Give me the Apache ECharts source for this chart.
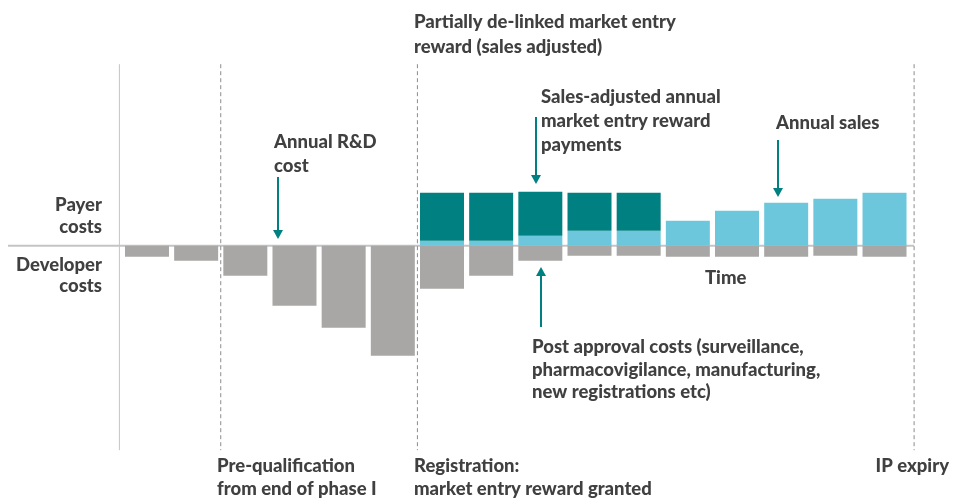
<!DOCTYPE html>
<html lang="en">
  <head>
    <meta charset="UTF-8" />
    <title>Market entry reward</title>
    <script src="https://cdnjs.cloudflare.com/ajax/libs/echarts/6.0.0/echarts.min.js"></script>
    <style>
      html, body { margin: 0; padding: 0; background: #fff; }
    </style>
  </head>
  <body>
    <div id="main" style="width: 962px; height: 500px"></div>
    <script>
      // data (arbitrary units)
      var years = ["1", "2", "3", "4", "5", "6", "7", "8", "9", "10", "11", "12", "13", "14", "15", "16"];
      var developerCosts = [-11, -15, -30, -60, -82, -110, -43, -30, -15, -10, -10, -11, -11, -11, -10, -11];
      var annualSales = ["-", "-", "-", "-", "-", "-", 5, 5, 10, 15, 15, 25, 35, 43, 47, 53];
      var rewardPayments = ["-", "-", "-", "-", "-", "-", 48, 48, 44, 38, 38, "-", "-", "-", "-", "-"];

      var TEAL = "#008081";
      var LIGHT = "#6cc7dc";
      var GREY = "#a8a7a6";
      var TXT = "#404040";
      var FONT = "900 18.5px Lato";

      var myChart = echarts.init(document.getElementById("main"));

      var option = {
        animation: false,
        grid: { left: 122.4, width: 786.7, top: 65.7, height: 384 },
        xAxis: {
          type: "category",
          data: years,
          show: false,
        },
        yAxis: {
          type: "value",
          min: -204,
          max: 180,
          show: false,
        },
        series: [
          {
            type: "bar",
            name: "Developer costs",
            stack: "total",
            barWidth: 44,
            data: developerCosts,
            itemStyle: { color: GREY },
          },
          {
            type: "bar",
            name: "Annual sales",
            stack: "total",
            barWidth: 44,
            data: annualSales,
            itemStyle: { color: LIGHT },
          },
          {
            type: "bar",
            name: "Reward payments",
            stack: "total",
            barWidth: 44,
            data: rewardPayments,
            itemStyle: { color: TEAL },
          },
        ],
      };
      myChart.setOption(option);

      // guide lines placed from the axes
      var zeroY = myChart.convertToPixel({ yAxisIndex: 0 }, 0);
      var topY = myChart.convertToPixel({ yAxisIndex: 0 }, 180) - 1.5;
      var botY = myChart.convertToPixel({ yAxisIndex: 0 }, -204) + 0.5;
      var band = 786.7 / years.length;
      function edge(i) {
        return myChart.convertToPixel({ xAxisIndex: 0 }, i) - band / 2;
      }

      function vline(x, dashed) {
        return {
          type: "line",
          shape: { x1: x, y1: topY, x2: x, y2: botY },
          style: { stroke: dashed ? "#8c8c8c" : "#c4c4c4", lineWidth: 1, lineDash: dashed ? [4, 3] : null },
          z: 1,
        };
      }
      function txt(x, y, s, lh, align) {
        return {
          type: "text",
          x: x,
          y: y,
          style: {
            text: s,
            font: FONT,
            fill: TXT,
            align: align || "left",
            verticalAlign: "top",
            lineHeight: lh,
          },
          z: 10,
        };
      }
      function arrow(x, y1, tip) {
        var dir = tip > y1 ? 1 : -1;
        return {
          type: "group",
          z: 10,
          children: [
            {
              type: "line",
              shape: { x1: x, y1: y1, x2: x, y2: tip - dir * 7 },
              style: { stroke: TEAL, lineWidth: 2 },
            },
            {
              type: "polygon",
              shape: { points: [[x - 5, tip - dir * 9], [x + 5, tip - dir * 9], [x, tip]] },
              style: { fill: TEAL },
            },
          ],
        };
      }

      myChart.setOption({
        graphic: [
          vline(edge(0) - 3, false),
          vline(edge(2), true),
          vline(edge(6), true),
          vline(edge(16) + 5, true),
          {
            type: "line",
            shape: { x1: 8, y1: zeroY, x2: edge(16) + 5, y2: zeroY },
            style: { stroke: "#c4c4c4", lineWidth: 2 },
            z: 0,
          },
          txt(414, 10, "Partially de-linked market entry\nreward (sales adjusted)", 25),
          txt(541, 85, "Sales-adjusted annual\nmarket entry reward\npayments", 24),
          txt(776, 111, "Annual sales", 24),
          txt(274, 130, "Annual R&D\ncost", 24),
          txt(102, 194, "Payer\ncosts", 22, "right"),
          txt(102, 254, "Developer\ncosts", 21.5, "right"),
          txt(705, 266, "Time", 24),
          txt(532, 336, "Post approval costs (surveillance,\npharmacovigilance, manufacturing,\nnew registrations etc)", 22.5),
          txt(217, 455, "Pre-qualification\nfrom end of phase I", 22.5),
          txt(414, 455, "Registration:\nmarket entry reward granted", 22.5),
          txt(949, 455, "IP expiry", 22.5, "right"),
          arrow(278, 177, 239),
          arrow(536, 117, 184),
          arrow(778, 140, 197),
          arrow(541, 327, 267),
        ],
      });

      window.addEventListener("resize", function () {
        myChart.resize();
      });
    </script>
  </body>
</html>
